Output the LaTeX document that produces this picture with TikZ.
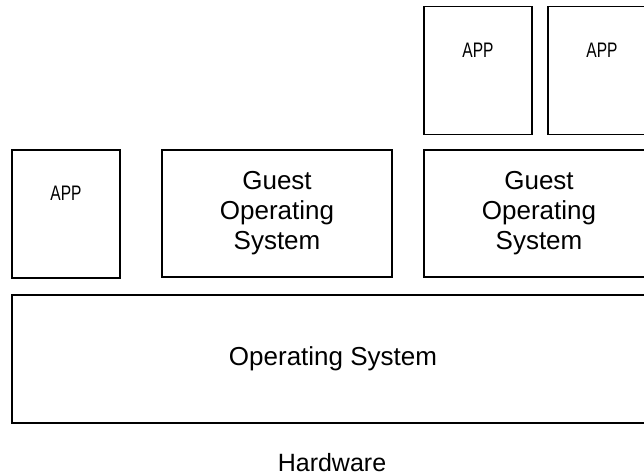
\documentclass[tikz,border=0pt]{standalone}
\usepackage{fontspec}
\setmainfont{Liberation Sans}
\newfontfamily\appfont[FakeStretch=0.74]{Liberation Sans}

\begin{document}
\begin{tikzpicture}[x=1pt, y=-1pt,
		layer/.style  = {draw, line width=1.9pt, inner sep=0pt, font=\fontsize{26}{30}\selectfont, align=center},
		appbox/.style = {layer, minimum width=108pt, minimum height=128pt,
						label={[font=\appfont\fontsize{21}{24}\selectfont, anchor=north, inner sep=0pt, yshift=-37pt]north:APP}},
		guestbox/.style = {layer, minimum width=230pt, minimum height=127pt}]
					% canvas setup
					
					\def\xmin{0}
					\def\xmax{644}
					
					\def\ymin{0}
					\def\ymax{475}
					
					\useasboundingbox (\xmin, \ymin) rectangle (\xmax, \ymax);
					
					% host
					\node[layer, minimum width=642pt, minimum height=128pt] (os) at (333, 359) {Operating System};
					\node[anchor=base, font=\fontsize{25}{30}\selectfont] (hw) at (332, 471) {Hardware};
					
					% guests
					\node[appbox]   (app1) at (66, 214)    {};
					\node[guestbox] (gos1) at (277, 213.5) {Guest\\Operating\\System};
					\node[guestbox] (gos2) at (539, 213.5) {Guest\\Operating\\System};
					
					% apps on second guest
					\node[appbox] (app2) at (478, 70.5) {};
					\node[appbox] (app3) at (602, 70.5) {};
					\end{tikzpicture}
\end{document}
